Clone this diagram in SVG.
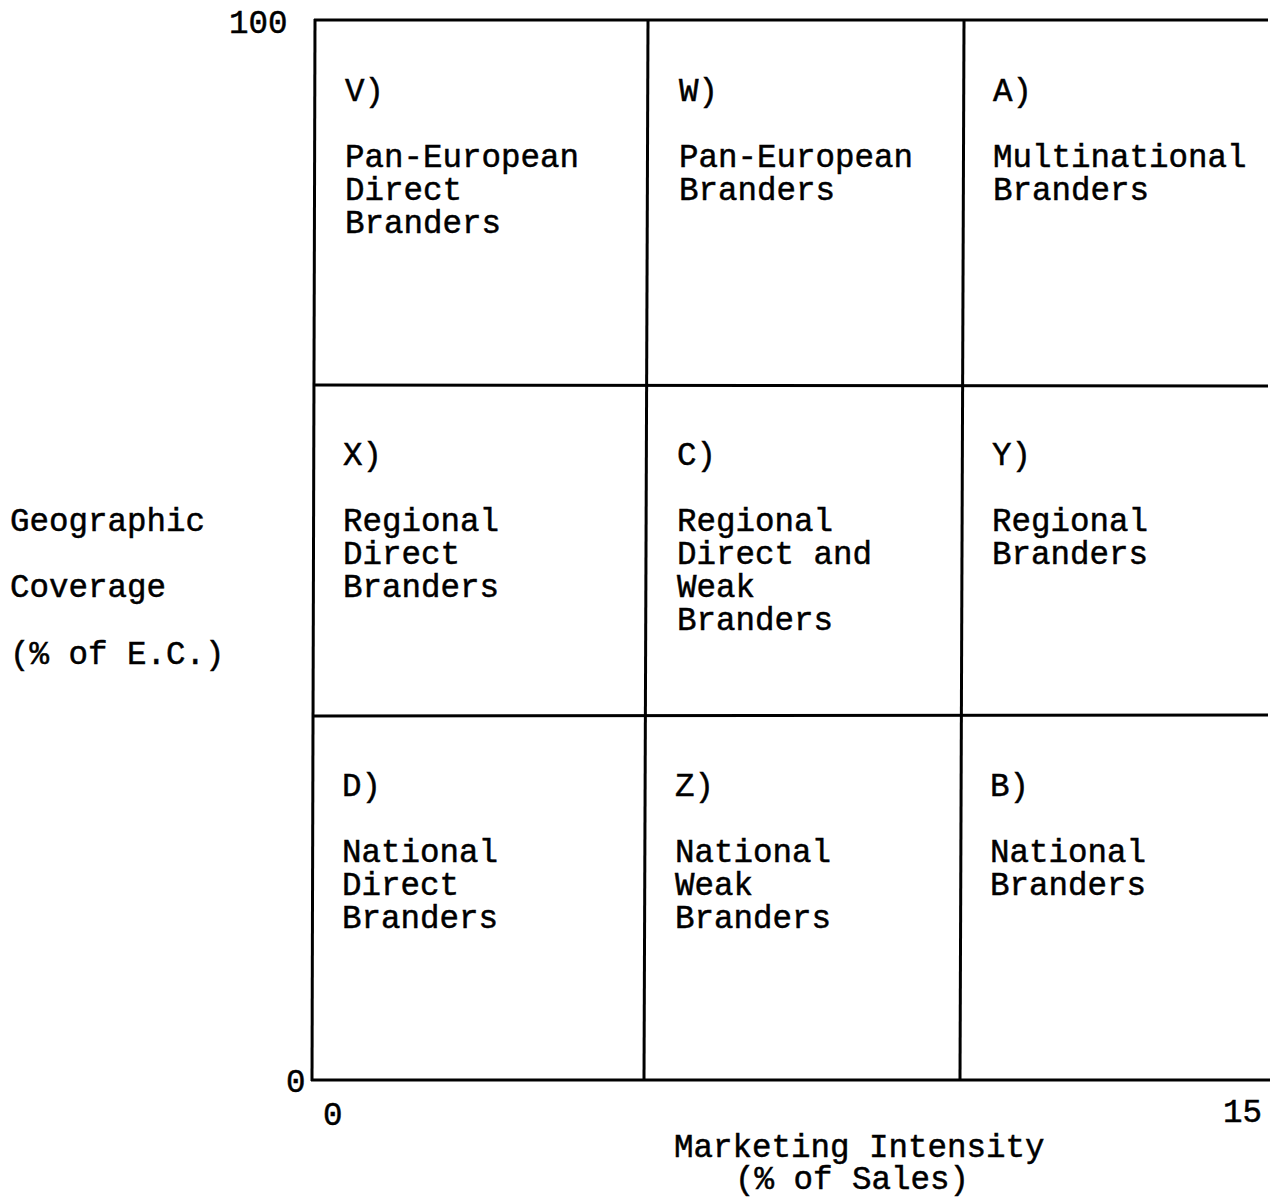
<svg xmlns="http://www.w3.org/2000/svg" width="1271" height="1197" viewBox="0 0 1271 1197">
<style>
text{font-family:"Liberation Mono","Courier New",monospace;font-size:32.5px;fill:#000;stroke:#000;stroke-width:0.5}
.ln{stroke:#000;stroke-width:3;fill:none;stroke-linecap:butt}
</style>
<rect width="1271" height="1197" fill="#fff"/>
<g id="grid">
<line class="ln" x1="314" y1="20" x2="1268" y2="20"/>
<line class="ln" x1="315" y1="19" x2="312" y2="1081"/>
<line class="ln" x1="311" y1="1080" x2="1270" y2="1080"/>
<line class="ln" x1="314" y1="385" x2="1268" y2="386"/>
<line class="ln" x1="313" y1="716" x2="1268" y2="715"/>
<line class="ln" x1="648" y1="20" x2="644" y2="1080"/>
<line class="ln" x1="964" y1="20" x2="960" y2="1080"/>
</g>
<g id="axes">
<text x="229" y="33">100</text>
<text x="286" y="1092">0</text>
<text x="323" y="1125">0</text>
<text x="1223" y="1122">15</text>
<text x="674" y="1157">Marketing Intensity</text>
<text x="735" y="1189">(% of Sales)</text>
<text x="10" y="531">Geographic</text>
<text x="10" y="597">Coverage</text>
<text x="10" y="664">(% of E.C.)</text>
</g>
<g id="cell-V">
<text x="345" y="101">V)</text>
<text x="345" y="167">Pan-European</text>
<text x="345" y="200">Direct</text>
<text x="345" y="233">Branders</text>
</g>
<g id="cell-W">
<text x="679" y="101">W)</text>
<text x="679" y="167">Pan-European</text>
<text x="679" y="200">Branders</text>
</g>
<g id="cell-A">
<text x="993" y="101">A)</text>
<text x="993" y="167">Multinational</text>
<text x="993" y="200">Branders</text>
</g>
<g id="cell-X">
<text x="343" y="465">X)</text>
<text x="343" y="531">Regional</text>
<text x="343" y="564">Direct</text>
<text x="343" y="597">Branders</text>
</g>
<g id="cell-C">
<text x="677" y="465">C)</text>
<text x="677" y="531">Regional</text>
<text x="677" y="564">Direct and</text>
<text x="677" y="597">Weak</text>
<text x="677" y="630">Branders</text>
</g>
<g id="cell-Y">
<text x="992" y="465">Y)</text>
<text x="992" y="531">Regional</text>
<text x="992" y="564">Branders</text>
</g>
<g id="cell-D">
<text x="342" y="796">D)</text>
<text x="342" y="862">National</text>
<text x="342" y="895">Direct</text>
<text x="342" y="928">Branders</text>
</g>
<g id="cell-Z">
<text x="675" y="796">Z)</text>
<text x="675" y="862">National</text>
<text x="675" y="895">Weak</text>
<text x="675" y="928">Branders</text>
</g>
<g id="cell-B">
<text x="990" y="796">B)</text>
<text x="990" y="862">National</text>
<text x="990" y="895">Branders</text>
</g>
</svg>
